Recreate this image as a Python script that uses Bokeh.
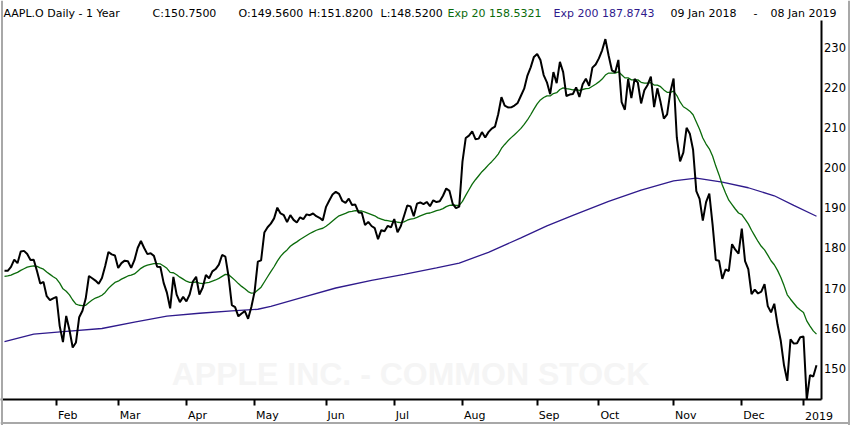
from bokeh.plotting import figure, ColumnDataSource
from bokeh.models import Range1d, LinearAxis, FixedTicker, Label, Span
from bokeh.core.properties import value
from bokeh.embed import file_html
from bokeh.resources import INLINE

# ---------------- data ----------------
month_labels = ["Feb", "Mar", "Apr", "May", "Jun", "Jul", "Aug", "Sep", "Oct", "Nov", "Dec", "2019"]
month_start_index = [16, 35, 56, 77, 99, 120, 141, 164, 183, 206, 227, 246]
price_ticks = [150, 160, 170, 180, 190, 200, 210, 220, 230]

close_jan18 = [174.33, 174.29, 175.28, 177.09, 176.19, 179.10, 179.26, 178.46, 177.00, 177.04, 174.22, 171.11,
               171.51, 167.96, 166.97, 167.43]
close_feb18 = [167.78, 160.50, 156.49, 163.03, 159.54, 155.15, 156.41, 162.71, 164.34, 167.37, 172.99, 172.43,
               171.85, 171.07, 172.50, 175.50, 178.97, 178.39, 178.12]
close_mar18 = [175.00, 176.21, 176.82, 176.67, 175.03, 176.94, 179.98, 181.72, 179.97, 178.44, 178.65, 178.02,
               175.30, 175.24, 171.27, 168.85, 164.94, 172.77, 168.34, 166.48, 167.78]
close_apr18 = [166.68, 168.39, 171.61, 172.80, 168.38, 170.05, 173.25, 172.44, 174.14, 174.73, 175.82, 178.24,
               177.84, 172.80, 165.72, 165.24, 162.94, 163.65, 164.22, 162.32, 165.26]
close_may18 = [169.10, 176.57, 176.89, 183.83, 185.16, 186.05, 187.36, 190.04, 188.59, 188.15, 186.44, 188.18,
               186.99, 186.31, 187.63, 187.16, 188.36, 188.15, 188.58, 187.90, 187.50, 186.87]
close_jun18 = [190.24, 191.83, 193.31, 193.98, 193.46, 191.70, 191.23, 192.28, 190.70, 190.80, 188.84, 188.74,
               185.69, 186.50, 185.46, 184.92, 182.17, 184.43, 184.16, 185.50, 185.11]
close_jul18 = [187.18, 183.92, 185.40, 187.97, 190.58, 190.35, 187.88, 191.03, 191.33, 190.91, 191.45, 190.40,
               191.88, 191.44, 191.61, 193.00, 194.82, 194.21, 190.98, 189.91, 190.29]
close_aug18 = [201.50, 207.39, 207.99, 209.07, 207.11, 207.25, 208.88, 207.53, 208.87, 209.75, 210.24, 213.32,
               217.58, 215.46, 215.04, 215.05, 215.49, 216.16, 217.94, 219.70, 222.98, 225.03, 227.63]
close_sep18 = [228.36, 226.87, 223.10, 221.30, 218.33, 223.85, 221.07, 226.41, 223.84, 217.88, 218.24, 218.37,
               220.03, 217.66, 220.79, 222.19, 220.42, 224.95, 225.74]
close_oct18 = [227.26, 229.28, 232.07, 227.99, 224.29, 223.77, 226.87, 216.36, 214.45, 222.11, 217.36, 222.15,
               221.19, 216.02, 219.31, 220.65, 222.73, 215.09, 219.80, 216.30, 212.24, 213.30, 218.86]
close_nov18 = [222.22, 207.48, 201.59, 203.77, 209.95, 208.49, 204.47, 194.17, 192.23, 186.80, 191.41, 193.53,
               185.86, 176.98, 176.78, 172.29, 174.62, 174.24, 180.94, 179.55, 178.58]
close_dec18 = [184.82, 176.69, 174.72, 168.49, 169.60, 168.63, 169.10, 170.95, 165.48, 163.94, 166.07, 160.89,
               156.83, 150.73, 146.83, 157.17, 156.15, 156.23, 157.74]
close_jan19 = [157.92, 142.19, 148.26, 147.93, 150.75]

ema20 = [172.9, 173.0, 173.2, 173.6, 173.9, 174.4, 174.8, 175.2, 175.4, 175.5, 175.4, 175.0, 174.7, 174.0, 173.4,
         172.8, 172.3, 171.2, 169.8, 169.2, 168.3, 167.0, 166.0, 165.7, 165.6, 165.7, 166.4, 167.0, 167.5, 167.8,
         168.2, 168.9, 169.9, 170.7, 171.4, 171.7, 172.2, 172.6, 173.0, 173.2, 173.5, 174.2, 174.9, 175.4, 175.7,
         175.9, 176.1, 176.1, 176.0, 175.5, 174.9, 173.9, 173.8, 173.3, 172.7, 172.2, 171.7, 171.4, 171.4, 171.5,
         171.2, 171.1, 171.3, 171.4, 171.7, 172.0, 172.4, 172.9, 173.4, 173.3, 172.6, 171.9, 171.1, 170.4, 169.8,
         169.1, 168.7, 168.8, 169.5, 170.2, 171.5, 172.8, 174.1, 175.3, 176.7, 177.9, 178.8, 179.5, 180.4, 181.0,
         181.5, 182.1, 182.6, 183.1, 183.6, 184.0, 184.4, 184.7, 184.9, 185.4, 186.0, 186.7, 187.4, 188.0, 188.3,
         188.6, 189.0, 189.1, 189.3, 189.2, 189.2, 188.9, 188.6, 188.3, 188.0, 187.5, 187.2, 186.9, 186.8, 186.6,
         186.7, 186.4, 186.3, 186.5, 186.9, 187.2, 187.3, 187.6, 188.0, 188.3, 188.6, 188.7, 189.0, 189.3, 189.5,
         189.8, 190.3, 190.6, 190.7, 190.6, 190.6, 191.6, 193.1, 194.5, 195.9, 197.0, 198.0, 199.0, 199.8, 200.7,
         201.5, 202.4, 203.4, 204.8, 205.8, 206.7, 207.5, 208.2, 209.0, 209.8, 210.8, 211.9, 213.2, 214.6, 215.9,
         216.9, 217.5, 217.9, 217.9, 218.5, 218.7, 219.5, 219.9, 219.7, 219.6, 219.4, 219.5, 219.3, 219.5, 219.7,
         219.8, 220.3, 220.8, 221.4, 222.1, 223.1, 223.6, 223.6, 223.6, 223.9, 223.2, 222.4, 222.4, 221.9, 221.9,
         221.9, 221.3, 221.1, 221.1, 221.2, 220.6, 220.6, 220.2, 219.4, 218.8, 218.8, 219.1, 218.0, 216.4, 215.2,
         214.7, 214.1, 213.2, 211.4, 209.6, 207.4, 205.9, 204.7, 202.9, 200.4, 198.2, 195.7, 193.7, 191.9, 190.8,
         189.7, 188.7, 188.3, 187.2, 186.0, 184.4, 183.0, 181.6, 180.4, 179.5, 178.2, 176.8, 175.8, 174.4, 172.7,
         170.6, 168.3, 167.2, 166.2, 165.2, 164.5, 163.9, 161.8, 160.5, 159.3, 158.5]

ema200_index = [0, 9, 19, 30, 40, 50, 60, 70, 78, 82, 92, 102, 113, 123, 133, 140, 149, 159, 167, 175, 186,
                196, 206, 213, 221, 229, 237, 243, 250]
ema200_values = [156.6, 158.5, 159.2, 159.9, 161.5, 163.0, 163.7, 164.3, 164.7, 165.4, 167.7, 170.0, 171.9,
                 173.4, 175.0, 176.2, 178.9, 182.5, 185.5, 188.1, 191.6, 194.4, 196.7, 197.4, 196.4, 195.0,
                 193.0, 190.6, 187.9]

header_texts = ["AAPL.O Daily -  1 Year", "C:150.7500", "O:149.5600", "H:151.8200", "L:148.5200",
                "Exp 20 158.5321", "Exp 200 187.8743", "09 Jan 2018", "-", "08 Jan 2019"]
watermark = "APPLE INC. - COMMON STOCK"

# ---------------- layout constants (pixels of the 850x425 page) ----------------
W, H = 850, 425
PX_PER_IDX = 3.248
PX_PER_USD = 4.01
X0 = -4.0 / PX_PER_IDX
X1 = X0 + W / PX_PER_IDX
def v_at(py):  # price value at page y
    return 150 + (367.7 - py) / PX_PER_USD
def i_at(px):  # index value at page x
    return X0 + px / PX_PER_IDX
Y0, Y1 = v_at(H), v_at(0)
Y_AXIS = v_at(398.7)
Y_TOP = v_at(20)
X_AXIS = i_at(820.5)

GREEN = "#0b6b0b"
PURPLE = "#2f1a8c"
FONT = "DejaVu Sans"

close = (close_jan18 + close_feb18 + close_mar18 + close_apr18 + close_may18 + close_jun18 + close_jul18 +
         close_aug18 + close_sep18 + close_oct18 + close_nov18 + close_dec18 + close_jan19)
idx = list(range(len(close)))

p = figure(width=W, height=H, output_backend="svg", toolbar_location=None,
           x_range=Range1d(X0, X1), y_range=Range1d(Y0, Y1),
           x_axis_location=None, y_axis_location=None,
           min_border_left=0, min_border_right=0, min_border_top=0, min_border_bottom=0)
p.outline_line_color = None
p.background_fill_color = "white"
p.border_fill_color = "white"
p.grid.visible = False

# outer bevel lines
p.add_layout(Span(location=i_at(1.5), dimension="height", line_color="#a8a8a8", line_width=2))
p.add_layout(Span(location=i_at(848.5), dimension="height", line_color="#a8a8a8", line_width=2))
p.add_layout(Span(location=v_at(422.5), dimension="width", line_color="#a8a8a8", line_width=2))

# watermark
p.add_layout(Label(x=i_at(410), y=v_at(373), text=watermark, text_align="center", text_baseline="middle",
                   text_font="Liberation Sans", text_font_style="bold", text_font_size="32px",
                   text_color="#f5f5f5", level="underlay"))

p.line(ema200_index, ema200_values, line_color=PURPLE, line_width=1.3)
p.line(idx, ema20, line_color=GREEN, line_width=1.3)
p.line(idx, close, line_color="black", line_width=2)

# bottom axis inside the frame, ticks at month starts
xaxis = LinearAxis(ticker=FixedTicker(ticks=month_start_index, minor_ticks=[]),
                   fixed_location=Y_AXIS, bounds=(X0, X_AXIS),
                   major_label_overrides={m: "" for m in month_start_index})
xaxis.axis_line_color = "black"
xaxis.axis_line_width = 2
xaxis.major_tick_line_color = "black"
xaxis.major_tick_line_width = 2
xaxis.major_tick_out = 6
xaxis.major_tick_in = 0
xaxis.minor_tick_line_color = None
xaxis.major_label_text_font_size = "0px"
p.add_layout(xaxis, "below")

# month labels, left aligned just after their tick
p.text(x=month_start_index, y=[v_at(415)] * len(month_labels), text=month_labels,
       x_offset=1.5, text_align="left", text_baseline="middle",
       text_font=value(FONT), text_font_size=value("11px"), text_color="black")

# right price axis inside the frame
yaxis = LinearAxis(ticker=FixedTicker(ticks=price_ticks, minor_ticks=[]),
                   fixed_location=X_AXIS, bounds=(Y_AXIS, Y_TOP))
yaxis.axis_line_color = "black"
yaxis.axis_line_width = 2
yaxis.major_tick_line_color = None
yaxis.major_tick_out = 0
yaxis.major_tick_in = 0
yaxis.minor_tick_line_color = None
yaxis.major_label_standoff = 3
yaxis.major_label_text_font = FONT
yaxis.major_label_text_font_size = "11.5px"
yaxis.major_label_text_color = "black"
p.add_layout(yaxis, "right")

# header line
hdr_px = [3, 152, 238, 308, 380, 447, 553, 670, 753, 770]
hdr_col = ["black"] * 5 + [GREEN, PURPLE] + ["black"] * 3
hdr = ColumnDataSource(dict(x=[i_at(px) for px in hdr_px], y=[v_at(12.5)] * len(hdr_px),
                            text=header_texts, color=hdr_col))
p.text(x="x", y="y", text="text", text_color="color", source=hdr, text_align="left",
       text_baseline="middle", text_font=value(FONT), text_font_size=value("11px"))

open("out.html", "w").write(file_html(p, INLINE))
